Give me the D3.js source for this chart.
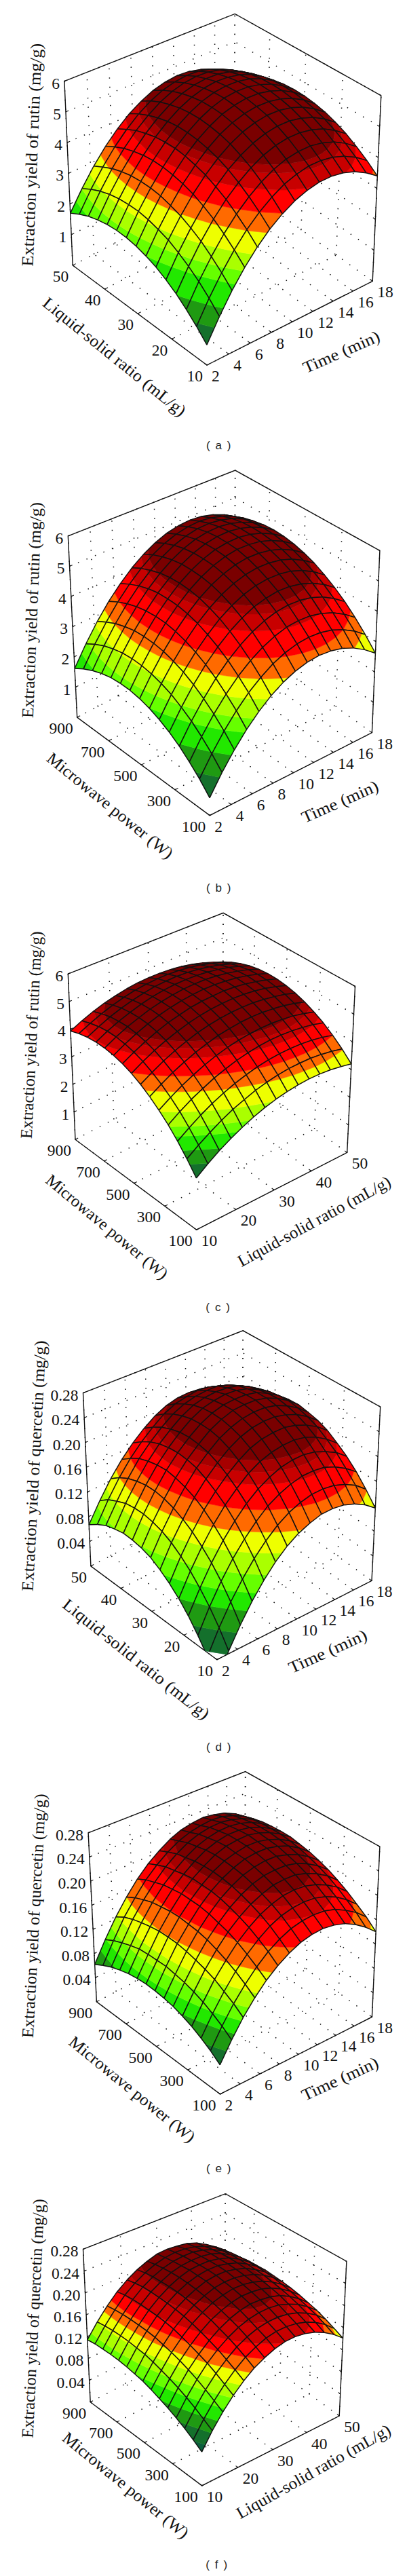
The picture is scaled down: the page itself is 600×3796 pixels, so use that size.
<!DOCTYPE html>
<html>
<head>
<meta charset="utf-8">
<script src="https://cdnjs.cloudflare.com/ajax/libs/d3/7.8.5/d3.min.js"></script>
<style>
  html, body { margin: 0; padding: 0; background: #fff; }
  svg { display: block; }
</style>
</head>
<body>
<svg id="chart" width="600" height="3796"></svg>
<script>
// Axis ticks
const timeTicks = [2, 4, 6, 8, 10, 12, 14, 16, 18];
const ratioTicks = [10, 20, 30, 40, 50];
const powerTicks = [100, 300, 500, 700, 900];
const rutinTicks = [0, 1, 2, 3, 4, 5, 6];
const quercetinTicks = [0, 0.04, 0.08, 0.12, 0.16, 0.20, 0.24, 0.28];

// Surface heights, one row per node of the first axis
const rutinTimeRatio = [
  [.60,.93,1.22,1.48,1.69,1.87,2.00,2.10,2.16,2.18,2.16,2.10,2.01,1.87,1.70],
  [1.26,1.59,1.88,2.13,2.34,2.52,2.64,2.74,2.80,2.81,2.79,2.73,2.63,2.49,2.31],
  [1.86,2.18,2.46,2.72,2.92,3.09,3.21,3.31,3.36,3.37,3.35,3.28,3.18,3.03,2.86],
  [2.38,2.70,2.98,3.23,3.43,3.60,3.72,3.80,3.85,3.86,3.83,3.76,3.66,3.51,3.33],
  [2.83,3.15,3.42,3.67,3.86,4.03,4.14,4.23,4.28,4.28,4.25,4.17,4.07,3.91,3.73],
  [3.21,3.52,3.79,4.03,4.23,4.39,4.50,4.58,4.62,4.63,4.59,4.51,4.40,4.25,4.06],
  [3.51,3.82,4.09,4.33,4.52,4.68,4.79,4.86,4.90,4.90,4.86,4.78,4.67,4.51,4.31],
  [3.75,4.06,4.32,4.56,4.74,4.90,5.00,5.08,5.11,5.11,5.06,4.98,4.86,4.70,4.50],
  [3.91,4.21,4.48,4.71,4.89,5.04,5.14,5.21,5.25,5.24,5.19,5.10,4.98,4.81,4.61],
  [4.01,4.31,4.56,4.79,4.97,5.12,5.21,5.28,5.31,5.30,5.25,5.15,5.03,4.86,4.66],
  [4.03,4.32,4.58,4.80,4.98,5.12,5.21,5.28,5.30,5.29,5.23,5.14,5.01,4.84,4.63],
  [3.98,4.27,4.52,4.74,4.91,5.05,5.14,5.20,5.22,5.21,5.15,5.05,4.92,4.74,4.53],
  [3.86,4.14,4.39,4.61,4.78,4.91,5.00,5.06,5.07,5.05,4.99,4.89,4.75,4.57,4.36],
  [3.66,3.95,4.19,4.40,4.57,4.70,4.79,4.84,4.85,4.83,4.76,4.65,4.52,4.33,4.11],
  [3.40,3.68,3.92,4.13,4.29,4.42,4.50,4.55,4.56,4.53,4.46,4.35,4.21,4.02,3.80]
];
const rutinTimePower = [
  [.53,.88,1.18,1.45,1.67,1.85,1.99,2.09,2.15,2.16,2.14,2.07,1.96,1.81,1.62],
  [1.11,1.46,1.77,2.04,2.26,2.45,2.59,2.69,2.75,2.77,2.75,2.68,2.58,2.43,2.24],
  [1.62,1.98,2.29,2.56,2.79,2.98,3.12,3.23,3.29,3.31,3.30,3.23,3.13,2.98,2.80],
  [2.07,2.43,2.74,3.02,3.25,3.44,3.59,3.70,3.77,3.79,3.77,3.71,3.61,3.47,3.29],
  [2.45,2.82,3.13,3.41,3.64,3.83,3.99,4.10,4.17,4.19,4.19,4.13,4.03,3.89,3.71],
  [2.77,3.13,3.45,3.73,3.97,4.17,4.32,4.44,4.51,4.54,4.53,4.48,4.38,4.25,4.07],
  [3.02,3.39,3.70,3.99,4.23,4.43,4.59,4.71,4.78,4.81,4.81,4.76,4.67,4.54,4.36],
  [3.20,3.57,3.89,4.18,4.43,4.63,4.79,4.91,4.99,5.02,5.02,4.98,4.89,4.76,4.59],
  [3.32,3.69,4.02,4.31,4.55,4.76,4.92,5.05,5.13,5.17,5.17,5.13,5.04,4.91,4.75],
  [3.37,3.74,4.07,4.37,4.62,4.82,4.99,5.12,5.21,5.24,5.25,5.21,5.13,5.00,4.84],
  [3.35,3.73,4.06,4.36,4.61,4.82,4.99,5.12,5.21,5.26,5.27,5.23,5.15,5.03,4.87],
  [3.27,3.65,3.98,4.29,4.54,4.76,4.93,5.06,5.16,5.20,5.21,5.18,5.10,4.98,4.83],
  [3.12,3.50,3.84,4.15,4.40,4.62,4.80,4.93,5.03,5.08,5.09,5.06,4.99,4.87,4.72],
  [2.90,3.29,3.63,3.94,4.20,4.42,4.60,4.74,4.84,4.89,4.91,4.88,4.81,4.70,4.55],
  [2.62,3.01,3.36,3.67,3.93,4.15,4.34,4.48,4.58,4.64,4.66,4.63,4.56,4.46,4.31]
];
const rutinRatioPower = [
  [1.70,2.12,2.50,2.84,3.13,3.39,3.61,3.79,3.93,4.03,4.09,4.11,4.09,4.03,3.93],
  [1.99,2.40,2.77,3.11,3.39,3.64,3.85,4.03,4.16,4.25,4.31,4.32,4.29,4.22,4.12],
  [2.25,2.65,3.02,3.35,3.62,3.87,4.07,4.24,4.36,4.45,4.50,4.50,4.47,4.39,4.28],
  [2.48,2.88,3.24,3.55,3.82,4.06,4.26,4.42,4.54,4.62,4.65,4.65,4.61,4.53,4.41],
  [2.68,3.08,3.43,3.74,4.00,4.23,4.42,4.57,4.69,4.76,4.79,4.78,4.73,4.64,4.51],
  [2.86,3.24,3.59,3.89,4.15,4.37,4.56,4.70,4.80,4.87,4.89,4.88,4.82,4.73,4.59],
  [3.01,3.39,3.72,4.02,4.27,4.49,4.66,4.80,4.90,4.95,4.97,4.95,4.89,4.78,4.64],
  [3.13,3.50,3.83,4.12,4.36,4.57,4.74,4.87,4.96,5.01,5.02,4.99,4.92,4.81,4.66],
  [3.22,3.59,3.91,4.19,4.42,4.63,4.79,4.91,4.99,5.04,5.04,5.00,4.93,4.81,4.65],
  [3.29,3.65,3.96,4.24,4.46,4.66,4.81,4.93,5.01,5.04,5.04,4.99,4.91,4.78,4.62],
  [3.33,3.67,3.98,4.25,4.47,4.66,4.81,4.92,4.99,5.01,5.00,4.95,4.86,4.73,4.56],
  [3.34,3.68,3.98,4.24,4.45,4.63,4.77,4.88,4.94,4.96,4.94,4.88,4.78,4.65,4.47],
  [3.32,3.65,3.95,4.20,4.41,4.58,4.71,4.81,4.86,4.88,4.85,4.79,4.68,4.53,4.35],
  [3.27,3.60,3.89,4.14,4.33,4.50,4.63,4.71,4.76,4.77,4.74,4.66,4.55,4.40,4.20],
  [3.20,3.52,3.80,4.04,4.23,4.39,4.51,4.59,4.63,4.63,4.59,4.51,4.39,4.23,4.03]
];
const quercetinTimeRatio = [
  [-.030,-.006,.015,.034,.050,.063,.074,.083,.088,.091,.092,.089,.085,.077,.067],
  [.004,.028,.049,.067,.083,.096,.107,.115,.120,.123,.123,.121,.115,.108,.097],
  [.034,.058,.079,.097,.112,.125,.135,.143,.148,.151,.151,.148,.143,.135,.124],
  [.061,.084,.105,.123,.138,.151,.161,.168,.173,.176,.175,.172,.167,.158,.147],
  [.084,.107,.127,.145,.160,.172,.182,.190,.194,.196,.195,.192,.186,.177,.166],
  [.104,.126,.146,.164,.178,.190,.200,.207,.211,.213,.212,.208,.202,.193,.182],
  [.120,.142,.162,.179,.194,.205,.215,.222,.226,.227,.226,.222,.216,.207,.195],
  [.132,.154,.173,.190,.205,.217,.226,.232,.236,.237,.236,.232,.225,.216,.204],
  [.140,.162,.181,.198,.212,.224,.233,.239,.243,.243,.241,.237,.230,.220,.209],
  [.146,.167,.186,.202,.216,.227,.236,.242,.245,.245,.244,.239,.232,.223,.210],
  [.147,.168,.187,.203,.217,.228,.236,.242,.245,.245,.243,.238,.232,.221,.208],
  [.145,.166,.185,.200,.214,.224,.232,.238,.241,.241,.238,.234,.226,.215,.203],
  [.139,.160,.178,.193,.207,.217,.225,.230,.233,.232,.229,.225,.217,.206,.194],
  [.130,.151,.168,.184,.196,.207,.214,.219,.222,.221,.218,.213,.205,.194,.181],
  [.117,.137,.155,.170,.182,.193,.200,.204,.207,.206,.202,.197,.190,.178,.164]
];
const quercetinTimePower = [
  [.044,.055,.064,.072,.078,.083,.086,.088,.089,.088,.086,.082,.077,.070,.062],
  [.073,.084,.093,.101,.107,.112,.115,.118,.118,.118,.117,.113,.108,.102,.094],
  [.099,.110,.119,.128,.134,.139,.143,.146,.147,.147,.145,.142,.138,.132,.123],
  [.121,.132,.142,.150,.157,.163,.167,.169,.171,.171,.169,.167,.162,.156,.148],
  [.140,.151,.161,.170,.177,.182,.187,.190,.191,.192,.190,.188,.183,.178,.170],
  [.155,.167,.177,.186,.193,.199,.204,.207,.208,.209,.207,.204,.201,.195,.188],
  [.167,.179,.190,.199,.206,.212,.217,.220,.222,.222,.221,.218,.215,.209,.202],
  [.176,.188,.199,.208,.215,.222,.227,.230,.232,.233,.232,.229,.226,.220,.214],
  [.181,.193,.204,.214,.222,.228,.233,.237,.238,.240,.239,.236,.233,.227,.222],
  [.183,.195,.206,.216,.224,.230,.236,.240,.242,.243,.243,.240,.237,.231,.226],
  [.181,.194,.205,.215,.224,.230,.236,.240,.242,.244,.243,.241,.238,.233,.228],
  [.176,.189,.200,.210,.219,.226,.231,.236,.238,.240,.240,.238,.235,.231,.225],
  [.167,.180,.192,.202,.211,.218,.224,.229,.231,.233,.233,.232,.229,.225,.220],
  [.155,.169,.180,.191,.200,.207,.213,.218,.221,.223,.223,.222,.220,.216,.211],
  [.140,.154,.165,.176,.185,.193,.199,.204,.207,.210,.210,.209,.207,.203,.198]
];
const quercetinRatioPower = [
  [.056,.066,.075,.083,.090,.096,.102,.107,.110,.113,.115,.116,.116,.116,.114],
  [.083,.092,.101,.109,.116,.122,.127,.132,.136,.138,.140,.141,.141,.140,.138],
  [.106,.115,.124,.132,.139,.145,.150,.154,.158,.160,.161,.162,.162,.161,.159],
  [.126,.135,.144,.152,.158,.164,.169,.174,.177,.179,.180,.181,.181,.180,.177],
  [.143,.152,.160,.168,.174,.180,.185,.189,.192,.194,.195,.196,.196,.194,.191],
  [.157,.166,.174,.181,.187,.193,.197,.201,.204,.206,.207,.207,.207,.205,.202],
  [.167,.176,.184,.191,.197,.202,.207,.210,.213,.215,.216,.216,.215,.213,.210],
  [.175,.184,.191,.198,.204,.209,.213,.217,.220,.221,.222,.221,.220,.218,.216],
  [.180,.188,.195,.202,.208,.213,.217,.220,.223,.224,.224,.223,.222,.220,.217],
  [.181,.189,.196,.203,.208,.213,.217,.220,.223,.224,.224,.223,.222,.219,.215],
  [.179,.187,.194,.201,.206,.211,.214,.217,.219,.220,.220,.220,.218,.215,.212],
  [.174,.182,.189,.195,.201,.205,.208,.211,.213,.214,.214,.213,.211,.208,.205],
  [.166,.174,.181,.187,.192,.196,.199,.202,.203,.204,.204,.203,.201,.198,.194],
  [.155,.163,.170,.175,.180,.184,.187,.190,.191,.192,.191,.190,.188,.185,.181],
  [.141,.148,.155,.161,.165,.169,.172,.174,.175,.176,.175,.174,.171,.168,.164]
];

// Colour bands, low to high
const bandColors = ['#0b5f3c', '#14702c', '#1f9a12', '#22e800', '#66ff00', '#aaff00', '#eeff00', '#ff6a00', '#ff0000', '#c80000', '#a60000', '#7a0000'];
const rutinLevelsA = [0, 1, 1.45, 2, 2.3, 2.67, 3.13, 3.52, 3.95, 4.25, 4.4];
const rutinLevelsB = [0, 1, 1.5, 2, 2.3, 2.7, 3.1, 3.5, 4, 4.3, 4.45];
const rutinLevelsC = [0, 2, 2.3, 2.6, 2.8, 3.1, 3.5, 3.8, 4.13, 4.3, 4.42];
const quercetinLevelsD = [0, .025, .05, .07, .09, .113, .135, .158, .183, .195, .206];
const quercetinLevelsE = [0, .06, .08, .095, .11, .126, .148, .172, .195, .206, .216];
const quercetinLevelsF = [.065, .08, .095, .11, .123, .138, .152, .166, .179, .195, .205];

const panels = [
  { caption: '( a )', capPos: [323, 656], xT: timeTicks, yT: ratioTicks, zT: rutinTicks, fmt: d => d, values: rutinTimeRatio, levels: rutinLevelsA,
    box: { LT: [94.9, 119.6], T: [346.3, 20.4], RT: [561.8, 140.8], LB: [107.2, 391], B: [305, 538], RB: [549.2, 414.3] },
    titles: [['Extraction yield of rutin (mg/g)', 46.7, 228, -87.7, 329], ['Liquid-solid ratio (mL/g)', 169, 525.5, 38.9, 263], ['Time (min)', 503, 518.4, -23.8, 121]] },
  { caption: '( b )', capPos: [323, 1308.6], xT: timeTicks, yT: powerTicks, zT: rutinTicks, fmt: d => d, values: rutinTimePower, levels: rutinLevelsB,
    box: { LT: [100.3, 789.8], T: [346.7, 693.1], RT: [559.9, 811.4], LB: [113.7, 1057.1], B: [309.2, 1201.6], RB: [548.4, 1079.6] },
    titles: [['Extraction yield of rutin (mg/g)', 46.7, 899, -87.7, 318], ['Microwave power (W)', 162.6, 1187, 39.2, 232], ['Time (min)', 501, 1181, -23.8, 121]] },
  { caption: '( c )', capPos: [322, 1926], xT: ratioTicks, yT: powerTicks, zT: rutinTicks, fmt: d => d, values: rutinRatioPower, levels: rutinLevelsC,
    box: { LT: [100.3, 1435.1], T: [329.1, 1345.3], RT: [523.5, 1453.5], LB: [111, 1679.2], B: [289.7, 1812.2], RB: [511.7, 1698.4] },
    titles: [['Extraction yield of rutin (mg/g)', 45.9, 1525, -87.1, 306], ['Microwave power (W)', 158, 1807.6, 39.8, 226], ['Liquid-solid ratio (mL/g)', 463, 1799.4, -28.5, 252.6]] },
  { caption: '( d )', capPos: [323, 2574], xT: timeTicks, yT: ratioTicks, zT: quercetinTicks, fmt: d3.format('.2f'), values: quercetinTimeRatio, levels: quercetinLevelsD,
    box: { LT: [122.5, 2052.7], T: [358.2, 1960.8], RT: [560.7, 2073.1], LB: [133.9, 2307.8], B: [319.9, 2445.7], RB: [548, 2329.4] },
    titles: [['Extraction yield of quercetin (mg/g)', 49.8, 2160, -87, 370], ['Liquid-solid ratio (mL/g)', 201, 2444.5, 38.5, 269], ['Time (min)', 483, 2433, -24.3, 124]] },
  { caption: '( e )', capPos: [323, 3195.6], xT: timeTicks, yT: powerTicks, zT: quercetinTicks, fmt: d3.format('.2f'), values: quercetinTimePower, levels: quercetinLevelsE,
    box: { LT: [130.1, 2700.8], T: [361.7, 2610.6], RT: [559.9, 2721.2], LB: [142.4, 2949.8], B: [324.5, 3085.9], RB: [548.4, 2972.2] },
    titles: [['Extraction yield of quercetin (mg/g)', 49.8, 2823, -87, 360], ['Microwave power (W)', 195, 3078.5, 39.2, 232], ['Time (min)', 501, 3063, -24.7, 122]] },
  { caption: '( f )', capPos: [320, 3779.7], xT: ratioTicks, yT: powerTicks, zT: quercetinTicks, fmt: d3.format('.2f'), values: quercetinRatioPower, levels: quercetinLevelsF,
    box: { LT: [122.5, 3314.4], T: [332.2, 3232.7], RT: [510.9, 3332.3], LB: [133.2, 3539.7], B: [297.7, 3662.9], RB: [500.2, 3560.1] },
    titles: [['Extraction yield of quercetin (mg/g)', 48.6, 3416.4, -87.2, 353], ['Microwave power (W)', 185.6, 3662, 39.2, 232], ['Liquid-solid ratio (mL/g)', 462, 3641.7, -29.5, 257]] }
];

const svg = d3.select('#chart');
const serif = '"Liberation Serif", serif';
const ink = '#111';
// near side of each floor axis is drawn a little larger
const warp = t => t / (1 - 0.06 * (1 - t));
const closed = d3.line().curve(d3.curveLinearClosed);
const open = d3.line();

// keep the part of a polygon above (or below) height h
function clip(poly, h, keepAbove) {
  const out = [];
  poly.forEach((p, i) => {
    const q = poly[(i + 1) % poly.length];
    const pin = keepAbove ? p[2] >= h : p[2] <= h;
    const qin = keepAbove ? q[2] >= h : q[2] <= h;
    if (pin) out.push(p);
    if (pin !== qin) {
      const k = (h - p[2]) / (q[2] - p[2]);
      out.push([p[0] + k * (q[0] - p[0]), p[1] + k * (q[1] - p[1]), h]);
    }
  });
  return out;
}

panels.forEach(p => {
  const g = svg.append('g');
  const { LT, T, RT, LB, B, RB } = p.box;
  const BB = [T[0] - 1, LB[1] + RB[1] - B[1]];
  const F = [B[0] - 1, LT[1] + RT[1] - T[1]];
  const x = d3.scaleLinear().domain(d3.extent(p.xT)).range([0, 1]);
  const y = d3.scaleLinear().domain(d3.extent(p.yT)).range([0, 1]);
  const z = d3.scaleLinear().domain(d3.extent(p.zT)).range([0, 1]);

  // unit box to page
  const project = (u, v, w) => {
    const a = warp(u), b = warp(v);
    const low = [0, 1].map(k => (1 - a) * ((1 - b) * B[k] + b * LB[k]) + a * ((1 - b) * RB[k] + b * BB[k]));
    const high = [0, 1].map(k => (1 - a) * ((1 - b) * F[k] + b * LT[k]) + a * ((1 - b) * RT[k] + b * T[k]));
    return [low[0] + w * (high[0] - low[0]), low[1] + w * (high[1] - low[1])];
  };
  const pt = d => project(d[0], d[1], z(d[2]));

  // dotted grid lines on floor and back walls
  const grid = [];
  p.xT.forEach(a => { grid.push([[x(a), 0, 0], [x(a), 1, 0]]); grid.push([[x(a), 1, 0], [x(a), 1, 1]]); });
  p.yT.forEach(b => { grid.push([[0, y(b), 0], [1, y(b), 0]]); grid.push([[1, y(b), 0], [1, y(b), 1]]); });
  p.zT.slice(1).forEach(c => { grid.push([[0, 1, z(c)], [1, 1, z(c)]]); grid.push([[1, 0, z(c)], [1, 1, z(c)]]); });
  g.append('g').selectAll('path').data(grid).join('path')
    .attr('d', d => open(d.map(e => project(...e))))
    .attr('fill', 'none').attr('stroke', ink).attr('stroke-width', 1.5).attr('stroke-dasharray', '1.5 12');

  // tick marks
  const marks = [];
  p.xT.forEach(a => marks.push([[x(a), 0, 0], [x(a), 0.018, 0]]));
  p.yT.forEach(b => marks.push([[0, y(b), 0], [0.018, y(b), 0]]));
  p.zT.slice(1).forEach(c => { marks.push([[0, 1, z(c)], [0.016, 1, z(c)]]); marks.push([[1, 0, z(c)], [1, 0.016, z(c)]]); });
  g.append('g').selectAll('path').data(marks).join('path')
    .attr('d', d => open(d.map(e => project(...e))))
    .attr('stroke', ink).attr('stroke-width', 1.1);

  // box outline
  g.append('path').attr('d', closed([LT, T, RT, RB, B, LB]))
    .attr('fill', 'none').attr('stroke', ink).attr('stroke-width', 1.4);

  // tick labels
  const labels = g.append('g').style('font-family', serif).style('font-size', '23.5px').attr('fill', ink)
    .attr('dominant-baseline', 'central');
  labels.append('g').selectAll('text').data(p.zT.slice(1)).join('text')
    .attr('x', d => project(0, 1, z(d))[0] - 7).attr('y', d => project(0, 1, z(d))[1] + 3)
    .attr('text-anchor', 'end').text(p.fmt);
  labels.append('g').selectAll('text').data(p.yT).join('text')
    .attr('x', d => project(0, y(d), 0)[0] - 6).attr('y', d => project(0, y(d), 0)[1] + 16)
    .attr('text-anchor', 'end').text(d => d);
  labels.append('g').selectAll('text').data(p.xT).join('text')
    .attr('x', d => project(x(d), 0, 0)[0] + 7).attr('y', d => project(x(d), 0, 0)[1] + 16)
    .attr('text-anchor', 'start').text(d => d);

  // axis titles
  p.titles.forEach(t => {
    g.append('text').attr('transform', `translate(${t[1]},${t[2]}) rotate(${t[3]})`)
      .attr('text-anchor', 'middle').attr('dominant-baseline', 'central')
      .attr('textLength', t[4]).attr('lengthAdjust', 'spacingAndGlyphs')
      .style('font-family', serif).style('font-size', '24.5px').attr('fill', ink).text(t[0]);
  });

  // panel caption
  g.append('text').attr('x', p.capPos[0]).attr('y', p.capPos[1])
    .attr('text-anchor', 'middle').attr('dominant-baseline', 'central')
    .style('font-family', '"Liberation Sans", sans-serif').style('font-size', '17px').style('letter-spacing', '1.6px')
    .attr('fill', '#222').text(p.caption);

  // surface, painted back to front
  const rows = p.values.length, cols = p.values[0].length;
  const xNode = d3.scaleLinear().domain([0, rows - 1]).range(x.domain());
  const yNode = d3.scaleLinear().domain([0, cols - 1]).range(y.domain());
  const floor = p.zT[0];
  const edges = [floor].concat(p.levels).concat([Infinity]);
  const surf = g.append('g');
  for (let i = rows - 2; i >= 0; i--) {
    for (let j = cols - 2; j >= 0; j--) {
      const cell = [[i, j], [i + 1, j], [i + 1, j + 1], [i, j + 1]]
        .map(([a, b]) => [x(xNode(a)), y(yNode(b)), p.values[a][b]]);
      bandColors.forEach((col, k) => {
        let poly = clip(cell, edges[k], true);
        if (poly.length && edges[k + 1] !== Infinity) poly = clip(poly, edges[k + 1], false);
        if (poly.length < 3) return;
        surf.append('path').attr('d', closed(poly.map(pt))).attr('fill', col).attr('stroke', col).attr('stroke-width', 0.5);
      });
      cell.forEach((a, m) => {
        const seg = clip([a, cell[(m + 1) % 4]], floor, true);
        if (seg.length < 2) return;
        surf.append('path').attr('d', open(seg.slice(0, 2).map(pt))).attr('fill', 'none')
          .attr('stroke', ink).attr('stroke-width', 1.45);
      });
    }
  }
});
</script>
</body>
</html>
